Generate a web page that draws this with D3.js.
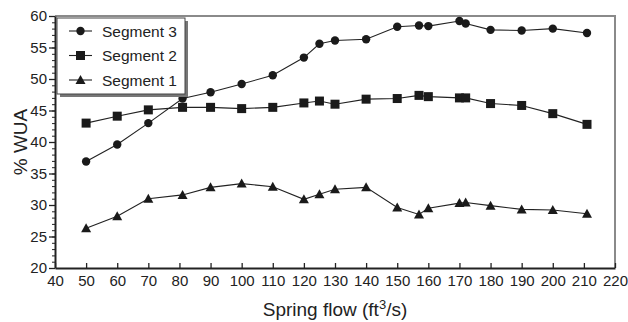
<!DOCTYPE html>
<meta charset="utf-8">
<script src="https://cdn.jsdelivr.net/npm/d3@7"></script>
<style>
body { margin: 0; background: #fff; }
text { font-family: "Liberation Sans", Arial, sans-serif; fill: #222; }
.line { fill: none; stroke: #222; stroke-width: 1.1px; }
.mark { fill: #1a1a1a; }
</style>
<svg width="628" height="322"></svg>
<script>

// spring flow (ft3/s)
var flow = [50, 60, 70, 81, 90, 100, 110, 120, 125, 130, 140, 150, 157, 160, 170, 172, 180, 190, 200, 211];

// % WUA for each segment
var seg3 = [36.9, 39.6, 43.0, 46.9, 47.9, 49.2, 50.6, 53.4, 55.6, 56.1, 56.3, 58.3, 58.5, 58.4, 59.2, 58.8, 57.8, 57.7, 58.0, 57.3];
var seg2 = [43.0, 44.1, 45.1, 45.5, 45.5, 45.3, 45.5, 46.2, 46.5, 46.0, 46.8, 46.9, 47.4, 47.2, 47.0, 47.0, 46.1, 45.8, 44.5, 42.8];
var seg1 = [26.3, 28.2, 31.0, 31.6, 32.8, 33.4, 32.9, 30.9, 31.7, 32.5, 32.8, 29.6, 28.5, 29.5, 30.3, 30.4, 29.9, 29.3, 29.2, 28.6];

var xTicks = d3.range(40, 221, 10);
var yTicks = d3.range(20, 61, 5);

var series = [
  {name: "Segment 3", values: seg3, shape: "circle"},
  {name: "Segment 2", values: seg2, shape: "square"},
  {name: "Segment 1", values: seg1, shape: "triangle"}
];

var svg = d3.select("svg");
var pLeft = 55, pRight = 615, pTop = 16, pBottom = 268;

var x = d3.scaleLinear().domain([40, 220]).range([pLeft, pRight]);
var y = d3.scaleLinear().domain([20, 60]).range([pBottom, pTop]);

// frame: top and right in gray
svg.append("path")
    .attr("d", "M" + pLeft + "," + pTop + "H" + pRight + "V" + pBottom)
    .attr("fill", "none").attr("stroke", "#8a8a8a").attr("stroke-width", 2);

// y axis with minor ticks
var yMinor = svg.append("g").attr("transform", "translate(" + pLeft + ",0)")
    .call(d3.axisLeft(y).tickValues(d3.range(20, 61, 1)).tickSize(3).tickFormat(""));
yMinor.select(".domain").remove();
yMinor.selectAll("line").attr("stroke", "#222");

var yAxis = svg.append("g").attr("transform", "translate(" + pLeft + ",0)")
    .call(d3.axisLeft(y).tickValues(yTicks).tickSize(6).tickSizeOuter(0).tickPadding(2));
yAxis.select(".domain").attr("stroke", "#222").attr("stroke-width", 2);
yAxis.selectAll("line").attr("stroke", "#222").attr("stroke-width", 1.3);
yAxis.selectAll("text").style("font-size", "15px").attr("fill", "#222");

// x axis, ticks point inward
var xAxis = svg.append("g").attr("transform", "translate(0," + pBottom + ")")
    .call(d3.axisBottom(x).tickValues(xTicks).tickSize(-5).tickSizeOuter(0).tickPadding(7));
xAxis.select(".domain").attr("stroke", "#222").attr("stroke-width", 2);
xAxis.selectAll("line").attr("stroke", "#222").attr("stroke-width", 1.3);
xAxis.selectAll("text").style("font-size", "15px").attr("fill", "#222");

// axis titles
svg.append("text")
    .attr("transform", "translate(27," + ((pTop + pBottom) / 2) + ") rotate(-90)")
    .attr("text-anchor", "middle")
    .style("font-size", "19px")
    .text("% WUA");

var xt = svg.append("text")
    .attr("x", (pLeft + pRight) / 2)
    .attr("y", 316)
    .attr("text-anchor", "middle")
    .style("font-size", "19px");
xt.append("tspan").text("Spring flow (ft");
xt.append("tspan").attr("dy", -7).style("font-size", "13px").text("3");
xt.append("tspan").attr("dy", 7).text("/s)");

var line = d3.line().x(function(d) { return x(d[0]); }).y(function(d) { return y(d[1]); });

function drawMark(g, shape, cx, cy) {
  if (shape == "circle") {
    g.append("circle").attr("class", "mark").attr("cx", cx).attr("cy", cy).attr("r", 4.2);
  } else if (shape == "square") {
    g.append("rect").attr("class", "mark").attr("x", cx - 4.5).attr("y", cy - 4.5).attr("width", 9).attr("height", 9);
  } else {
    g.append("path").attr("class", "mark")
        .attr("d", "M" + cx + "," + (cy - 5) + "L" + (cx + 5) + "," + (cy + 4) + "L" + (cx - 5) + "," + (cy + 4) + "Z");
  }
}

series.forEach(function(s) {
  var pts = flow.map(function(f, i) { return [f, s.values[i]]; });
  svg.append("path").datum(pts).attr("class", "line").attr("d", line);
  var g = svg.append("g");
  pts.forEach(function(p) { drawMark(g, s.shape, x(p[0]), y(p[1])); });
});

// legend with a drop shadow
var lg = svg.append("g");
lg.append("rect").attr("x", 60).attr("y", 21).attr("width", 128).attr("height", 76).attr("fill", "#777");
lg.append("rect").attr("x", 57).attr("y", 18).attr("width", 128).attr("height", 76)
    .attr("fill", "#fff").attr("stroke", "#444").attr("stroke-width", 1);

series.forEach(function(s, i) {
  var cy = 31 + i * 24.5;
  lg.append("line").attr("x1", 69).attr("x2", 92).attr("y1", cy).attr("y2", cy)
      .attr("stroke", "#222").attr("stroke-width", 1.1);
  drawMark(lg, s.shape, 80.5, cy);
  lg.append("text").attr("x", 102).attr("y", cy + 5.5).style("font-size", "15.5px").text(s.name);
});

</script>
